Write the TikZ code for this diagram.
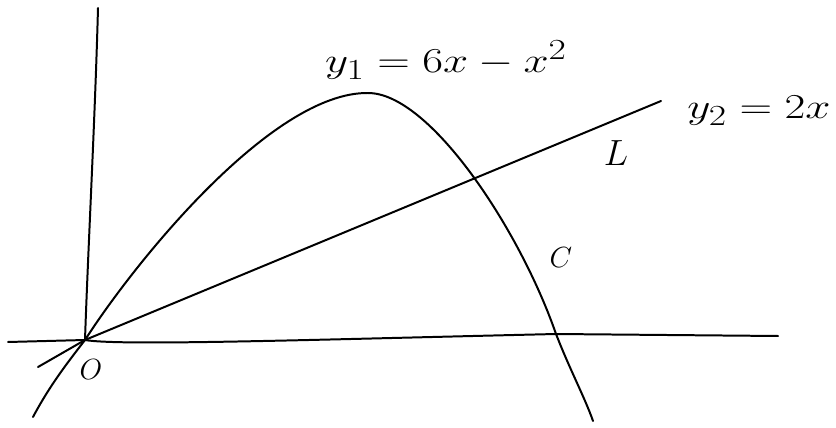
\documentclass[tikz,border=0pt]{standalone}
\begin{document}
\begin{tikzpicture}[x=0.03cm,y=-0.03cm,
  pen/.style={line width=1.7pt,line cap=round,line join=round,black},
  lbl/.style={font=\fontsize{24.88}{30}\selectfont,inner sep=0pt},
  smalllbl/.style={font=\fontsize{24}{28}\selectfont,inner sep=0pt}]
\useasboundingbox (0,0) rectangle (836,428);
\fill[white] (0,0) rectangle (836,428);
% key points
\coordinate (O) at (85,340);
\coordinate (ytop) at (98,8);
\coordinate (xleft) at (8,342);
\coordinate (xright) at (778,336);
\coordinate (lstart) at (38,367);
\coordinate (lend) at (661,101);
\coordinate (cstart) at (33,417);
\coordinate (peak) at (368,93);
\coordinate (xcross) at (556,334);
\coordinate (cend) at (593,421);
% axes
\draw[pen] (ytop) .. controls (95,120) and (88,250) .. (O);
\draw[pen] (xleft) -- (O) .. controls (120,346) and (300,340) .. (xcross) -- (xright);
% line y2 = 2x
\draw[pen] (lstart) -- (O) -- (lend);
% curve y1 = 6x - x^2
\draw[pen] (cstart) .. controls (50,385) and (68,362) .. (O)
  .. controls (135,262) and (272,92) .. (peak)
  .. controls (430,93) and (520,230) .. (xcross)
  .. controls (570,370) and (585,398) .. (cend);
% labels
\node[lbl] (y1) at (446,60) {\scalebox{1.55}[1.2]{$y_1 = 6x - x^2$}};
\node[lbl] (y2) at (759,111) {\scalebox{1.55}[1.2]{$y_2 = 2x$}};
\node[lbl] (L) at (616,153) {\scalebox{1.25}{$L$}};
\node[smalllbl] (C) at (561,258) {$C$};
\node[smalllbl] (Olab) at (91,370) {$O$};
\end{tikzpicture}
\end{document}
